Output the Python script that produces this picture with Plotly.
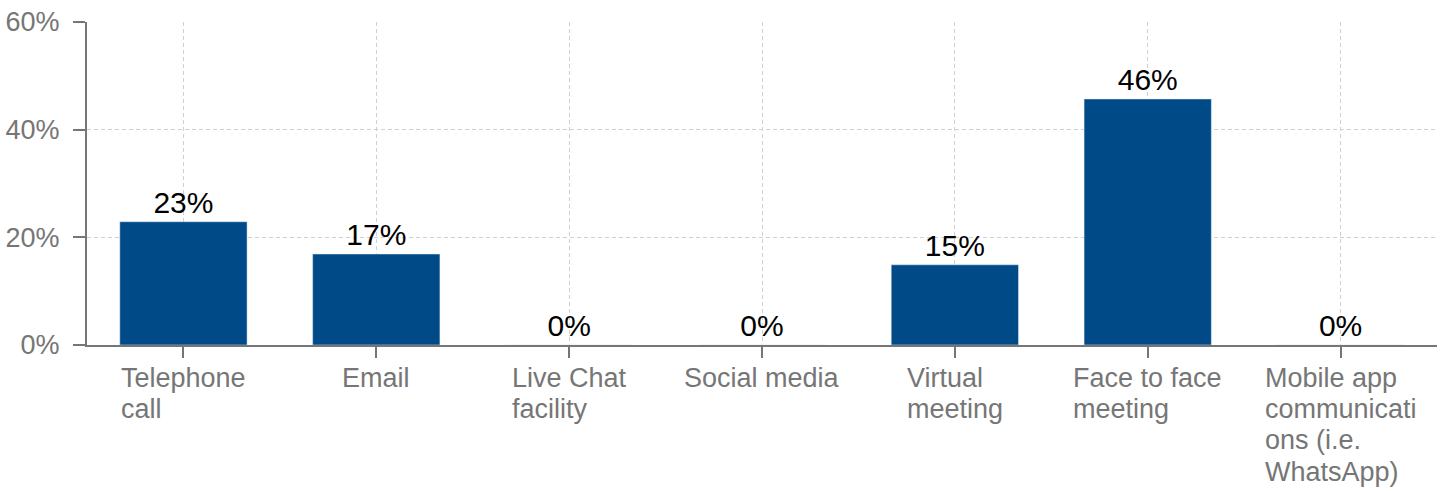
import plotly.graph_objects as go

categories = ["Telephone call", "Email", "Live Chat facility", "Social media",
              "Virtual meeting", "Face to face meeting",
              "Mobile app communications (i.e. WhatsApp)"]
label_lines = [["Telephone", "call"], ["Email"], ["Live Chat", "facility"],
               ["Social media"], ["Virtual", "meeting"], ["Face to face", "meeting"],
               ["Mobile app", "communicati", "ons (i.e.", "WhatsApp)"]]
values = [22.9, 16.9, 0, 0, 14.9, 45.7, 0]
y_ticks = [0, 20, 40, 60]
y_tick_text = ["0%", "20%", "40%", "60%"]

FONT = "Liberation Sans, Arial, sans-serif"
GRAY = "#767676"
GRID = "#d0d0d0"

fig = go.Figure(go.Bar(
    x=categories, y=values, marker_color="#004B87", width=0.66,
    text=[f"{v:.0f}%" for v in values], textposition="outside",
    textfont=dict(family=FONT, size=30, color="#000000"),
    cliponaxis=False,
))

annotations = []
for cat, lines in zip(categories, label_lines):
    text = "<br>".join(f'<span style="font-size:27px">{l}</span>' for l in lines)
    annotations.append(dict(
        x=cat, xref="x", y=0, yref="paper", text=text, showarrow=False,
        xanchor="center", yanchor="top", yshift=-16, align="left",
        font=dict(family=FONT, size=24, color=GRAY),
    ))

fig.update_layout(
    width=1445, height=491, margin=dict(l=87, r=8, t=22, b=146),
    plot_bgcolor="white", paper_bgcolor="white", showlegend=False,
    annotations=annotations,
    xaxis=dict(showticklabels=False, showline=True, linecolor=GRAY, linewidth=2,
               ticks="outside", ticklen=11, tickcolor=GRAY, tickwidth=2,
               automargin=False,
               showgrid=True, gridcolor=GRID, griddash="4px,3px", gridwidth=1),
    yaxis=dict(range=[0, 60], tickvals=y_ticks, ticktext=y_tick_text,
               showline=True, linecolor=GRAY, linewidth=2,
               ticks="outside", ticklen=12, tickcolor=GRAY, tickwidth=2,
               ticklabelstandoff=8, automargin=False,
               tickfont=dict(family=FONT, size=27, color=GRAY),
               showgrid=True, gridcolor=GRID, griddash="4px,3px", gridwidth=1,
               zeroline=False),
)
fig.write_html("out.html")
